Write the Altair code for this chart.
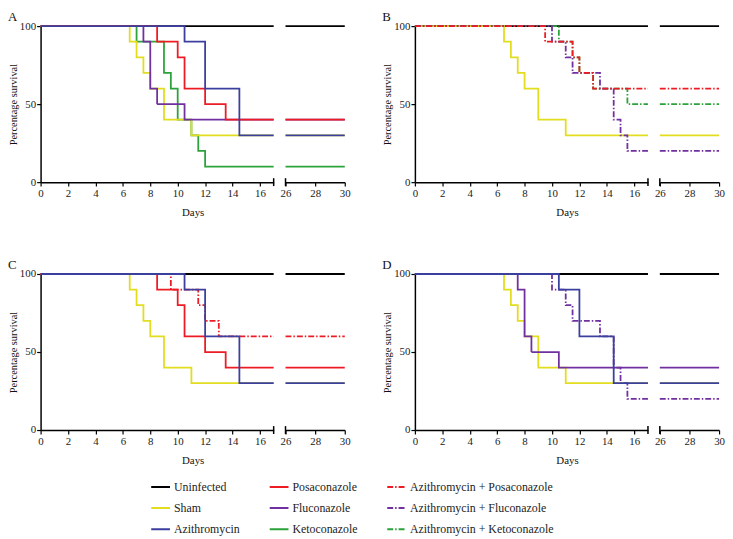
import altair as alt
import pandas as pd

FONT = "Liberation Serif"

# ---- categories / styles -------------------------------------------------
GROUPS = ["Uninfected", "Sham", "Azithromycin",
          "Posaconazole", "Fluconazole", "Ketoconazole",
          "Azithromycin + Posaconazole", "Azithromycin + Fluconazole",
          "Azithromycin + Ketoconazole"]
COLORS = ["#000000", "#e2dd1f", "#3b3f9e",
          "#ed1c24", "#7030a0", "#2ca33a",
          "#ed1c24", "#7030a0", "#2ca33a"]
DASHES = [[1, 0], [1, 0], [1, 0],
          [1, 0], [1, 0], [1, 0],
          [6, 2, 1.5, 2], [6, 2, 1.5, 2], [6, 2, 1.5, 2]]
DRAW_ORDER = ["Uninfected", "Ketoconazole", "Sham", "Azithromycin + Ketoconazole",
              "Azithromycin + Fluconazole", "Fluconazole",
              "Azithromycin + Posaconazole", "Posaconazole", "Azithromycin"]

# ---- survival data (day of each step, % survival after it) ---------------
uninfected_days = [0, 30]
uninfected_surv = [100, 100]
sham_days = [0, 6.5, 7, 7.5, 8, 9, 11, 30]
sham_surv = [100, 90, 80, 70, 60, 40, 30, 30]
azi_days = [0, 10.5, 12, 14.5, 30]
azi_surv = [100, 90, 60, 30, 30]
posa_days = [0, 8.5, 10, 10.5, 12, 13.5, 30]
posa_surv = [100, 90, 80, 60, 50, 40, 40]
flu_days = [0, 7.5, 8, 8.5, 10.5, 30]
flu_surv = [100, 90, 60, 50, 40, 40]
keto_days = [0, 7, 9, 9.5, 10, 11, 11.5, 12, 30]
keto_surv = [100, 90, 70, 60, 40, 30, 20, 10, 10]
azposa_days = [0, 9.5, 11.5, 12, 13, 30]
azposa_surv = [100, 90, 80, 70, 60, 60]
azflu_days = [0, 10, 11, 11.5, 13.5, 14.5, 15, 15.5, 30]
azflu_surv = [100, 90, 80, 70, 60, 40, 30, 20, 20]
azketo_days = [0, 10.5, 11.5, 12, 13, 15.5, 30]
azketo_surv = [100, 90, 80, 70, 60, 50, 50]

SERIES = {
    "Uninfected": (uninfected_days, uninfected_surv),
    "Sham": (sham_days, sham_surv),
    "Azithromycin": (azi_days, azi_surv),
    "Posaconazole": (posa_days, posa_surv),
    "Fluconazole": (flu_days, flu_surv),
    "Ketoconazole": (keto_days, keto_surv),
    "Azithromycin + Posaconazole": (azposa_days, azposa_surv),
    "Azithromycin + Fluconazole": (azflu_days, azflu_surv),
    "Azithromycin + Ketoconazole": (azketo_days, azketo_surv),
}

PANELS = [
    ("A", ["Uninfected", "Sham", "Azithromycin", "Posaconazole", "Fluconazole", "Ketoconazole"]),
    ("B", ["Uninfected", "Sham", "Azithromycin + Posaconazole",
           "Azithromycin + Fluconazole", "Azithromycin + Ketoconazole"]),
    ("C", ["Uninfected", "Sham", "Azithromycin", "Posaconazole", "Azithromycin + Posaconazole"]),
    ("D", ["Uninfected", "Sham", "Azithromycin", "Fluconazole", "Azithromycin + Fluconazole"]),
]

LEFT_TICKS = [0, 2, 4, 6, 8, 10, 12, 14, 16]
RIGHT_TICKS = [26, 28, 30]
LEFT_DOMAIN = [0, 17]
RIGHT_DOMAIN = [26, 30]
Y_TICKS = [0, 50, 100]

W_LEFT, W_RIGHT, H = 236, 60, 158
GAP = 12

legend = alt.Legend(title=None, orient="none", legendX=111, legendY=456, columns=3,
                    symbolType="stroke", symbolSize=361, symbolStrokeWidth=2,
                    labelFont=FONT, labelFontSize=12, labelColor="#222",
                    rowPadding=4.5, columnPadding=26, labelOffset=3, padding=0,
                    gridAlign="each")
color = alt.Color("group:N", scale=alt.Scale(domain=GROUPS, range=COLORS), legend=legend)
dash = alt.StrokeDash("group:N", scale=alt.Scale(domain=GROUPS, range=DASHES), legend=legend)


def left_frame(groups):
    rows = []
    for g in groups:
        d, s = SERIES[g]
        for dd, ss in zip(d, s):
            rows.append({"group": g, "day": min(dd, LEFT_DOMAIN[1]), "surv": ss})
    return pd.DataFrame(rows)


def right_frame(groups):
    rows = []
    for g in groups:
        d, s = SERIES[g]
        at_start = [ss for dd, ss in zip(d, s) if dd <= RIGHT_DOMAIN[0]][-1]
        rows.append({"group": g, "day": RIGHT_DOMAIN[0], "surv": at_start})
        rows.append({"group": g, "day": RIGHT_DOMAIN[1], "surv": s[-1]})
    return pd.DataFrame(rows)


def panel(letter, groups):
    y_left = alt.Y("surv:Q", scale=alt.Scale(domain=[0, 100], nice=False),
                   axis=alt.Axis(values=Y_TICKS, title="Percentage survival",
                                 titlePadding=1, labelPadding=1, titleFontSize=10.5))
    x_left = alt.X("day:Q", scale=alt.Scale(domain=LEFT_DOMAIN, nice=False, zero=False),
                   axis=alt.Axis(values=LEFT_TICKS, title="Days", titleX=(W_LEFT + GAP + W_RIGHT) / 2,
                                 titleAlign="center", titlePadding=8, labelPadding=2))
    base_l = alt.Chart(left_frame(groups)).mark_line(
        interpolate="step-after", strokeWidth=1.8).encode(
        x=x_left, y=y_left, color=color, strokeDash=dash)
    layers_l = [base_l.transform_filter(alt.datum.group == g) for g in DRAW_ORDER if g in groups]
    cap_l = alt.Chart(pd.DataFrame({"day": [LEFT_DOMAIN[1]]})).mark_rule(
        color="black", strokeWidth=1.5).encode(x=x_left, y=alt.value(H - 4), y2=alt.value(H + 4))
    lab = alt.Chart(pd.DataFrame({"t": [letter]})).mark_text(
        align="left", baseline="alphabetic", font=FONT, fontSize=13, color="#111").encode(
        text="t:N", x=alt.value(-33), y=alt.value(-5))
    left = alt.layer(*layers_l, cap_l, lab).properties(width=W_LEFT, height=H)

    y_right = alt.Y("surv:Q", scale=alt.Scale(domain=[0, 100], nice=False), axis=None)
    x_right = alt.X("day:Q", scale=alt.Scale(domain=RIGHT_DOMAIN, nice=False, zero=False),
                    axis=alt.Axis(values=RIGHT_TICKS, title=None, labelPadding=2))
    base_r = alt.Chart(right_frame(groups)).mark_line(
        interpolate="step-after", strokeWidth=1.8).encode(
        x=x_right, y=y_right, color=color, strokeDash=dash)
    layers_r = [base_r.transform_filter(alt.datum.group == g) for g in DRAW_ORDER if g in groups]
    cap_r = alt.Chart(pd.DataFrame({"day": [RIGHT_DOMAIN[0]]})).mark_rule(
        color="black", strokeWidth=1.5).encode(x=x_right, y=alt.value(H - 4), y2=alt.value(H + 4))
    right = alt.layer(*layers_r, cap_r).properties(width=W_RIGHT, height=H)

    return alt.hconcat(left, right, spacing=GAP, bounds="flush")


pA, pB, pC, pD = [panel(l, g) for l, g in PANELS]
# with flush bounds a nested concat counts as zero-size, so spacing is origin-to-origin
COL_STEP = 379
ROW_STEP = 251
row1 = alt.hconcat(pA, pB, spacing=COL_STEP, bounds="flush")
row2 = alt.hconcat(pC, pD, spacing=COL_STEP, bounds="flush")

chart = alt.vconcat(row1, row2, spacing=ROW_STEP, bounds="flush").resolve_scale(
    color="shared", strokeDash="shared").properties(padding=0).configure_view(
    stroke=None).configure_axis(
    grid=False, domainColor="black", domainWidth=1.5, tickColor="black", tickWidth=1.2,
    tickSize=4, labelFont=FONT, labelFontSize=11, labelColor="#222", labelFlush=False,
    labelOverlap=False, titleFont=FONT, titleFontSize=11, titleFontWeight="normal",
    titleColor="#111")

chart.save("out.html", embed_options={"renderer": "svg", "actions": False})
